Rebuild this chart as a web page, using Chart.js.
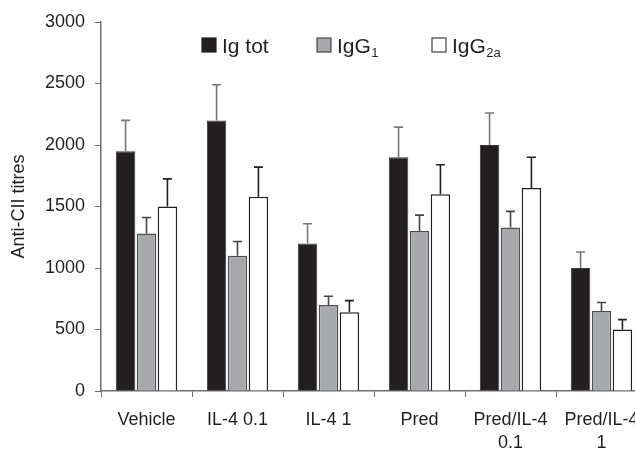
<!DOCTYPE html>
<html lang="en">
<head>
  <meta charset="UTF-8">
  <title>Anti-CII titres</title>
  <script src="https://cdn.jsdelivr.net/npm/chart.js"></script>
  <style>
    html, body {
      margin: 0;
      padding: 0;
      background: #ffffff;
      overflow: hidden;
    }
    .chart-container {
      width: 660px;  /* wider than the window: last group is cut off like the original */
      height: 449px;
    }
  </style>
</head>
<body>
  <div class="chart-container">
    <canvas id="barChart"></canvas>
  </div>
  <script>
    // Groups on the x axis
    const groups = [
      'Vehicle',
      'IL-4 0.1',
      'IL-4 1',
      'Pred',
      ['Pred/IL-4', '0.1'],
      ['Pred/IL-4', '1']
    ];

    // Mean titres
    const igTot = [1950, 2200, 1200, 1900, 2000, 1000];
    const igG1  = [1280, 1100, 700, 1300, 1330, 650];
    const igG2a = [1500, 1580, 640, 1600, 1650, 500];

    // Upper error (SEM)
    const igTotErr = [250, 290, 160, 245, 260, 130];
    const igG1Err  = [130, 115, 70, 130, 130, 70];
    const igG2aErr = [225, 240, 95, 240, 250, 80];

    const yTicks = [0, 500, 1000, 1500, 2000, 2500, 3000];

    const textColor = '#231f20';
    const axisColor = '#6d6e71';

    // error bars drawn on top of each bar (upper only, with cap)
    const errorBars = {
      id: 'errorBars',
      afterDatasetsDraw(chart) {
        const ctx = chart.ctx;
        const yScale = chart.scales.y;
        chart.data.datasets.forEach((ds, i) => {
          const meta = chart.getDatasetMeta(i);
          ctx.save();
          ctx.strokeStyle = ds.errColor;
          ctx.lineWidth = 1.6;
          meta.data.forEach((bar, j) => {
            const top = yScale.getPixelForValue(ds.data[j] + ds.errors[j]);
            ctx.beginPath();
            ctx.moveTo(bar.x, bar.y);
            ctx.lineTo(bar.x, top);
            ctx.moveTo(bar.x - 4.5, top);
            ctx.lineTo(bar.x + 4.5, top);
            ctx.stroke();
          });
          ctx.restore();
        });
      }
    };

    // legend with subscripts, drawn by hand
    const subLegend = {
      id: 'subLegend',
      afterDraw(chart) {
        const ctx = chart.ctx;
        const items = [
          { x: 202, main: 'Ig tot', sub: '' },
          { x: 317, main: 'IgG', sub: '1' },
          { x: 432, main: 'IgG', sub: '2a' }
        ];
        ctx.save();
        items.forEach((it, i) => {
          const ds = chart.data.datasets[i];
          ctx.fillStyle = ds.backgroundColor;
          ctx.fillRect(it.x, 38, 14, 14);
          ctx.strokeStyle = i === 0 ? '#231f20' : '#444';
          ctx.lineWidth = 1.2;
          ctx.strokeRect(it.x, 38, 14, 14);
          ctx.fillStyle = textColor;
          ctx.textBaseline = 'alphabetic';
          ctx.textAlign = 'left';
          ctx.font = '21px "Liberation Sans", Arial, sans-serif';
          ctx.fillText(it.main, it.x + 20, 53);
          if (it.sub) {
            const w = ctx.measureText(it.main).width;
            ctx.font = '13px "Liberation Sans", Arial, sans-serif';
            ctx.fillText(it.sub, it.x + 20 + w + 0.5, 57);
          }
        });
        ctx.restore();
      }
    };

    const config = {
      type: 'bar',
      data: {
        labels: groups,
        datasets: [
          {
            label: 'Ig tot',
            data: igTot,
            errors: igTotErr,
            errColor: '#777777',
            backgroundColor: '#231f20',
            borderColor: '#3a3738',
            borderWidth: 1
          },
          {
            label: 'IgG1',
            data: igG1,
            errors: igG1Err,
            errColor: '#444444',
            backgroundColor: '#a7a9ac',
            borderColor: '#4d4d4f',
            borderWidth: 1.5
          },
          {
            label: 'IgG2a',
            data: igG2a,
            errors: igG2aErr,
            errColor: '#231f20',
            backgroundColor: '#ffffff',
            borderColor: '#231f20',
            borderWidth: 1.5
          }
        ]
      },
      options: {
        responsive: true,
        maintainAspectRatio: false,
        animation: false,
        devicePixelRatio: 1,
        layout: {
          padding: { top: 22, right: 13, left: 0, bottom: 0 }
        },
        datasets: {
          bar: {
            categoryPercentage: 0.69,
            barPercentage: 0.93
          }
        },
        plugins: {
          legend: { display: false },
          tooltip: { enabled: false }
        },
        scales: {
          x: {
            afterFit: s => { s.height = 58; },
            grid: {
              offset: true,
              drawOnChartArea: false,
              drawTicks: true,
              tickLength: 6,
              color: axisColor
            },
            border: { display: true, color: axisColor, width: 1.5 },
            ticks: {
              color: textColor,
              padding: 12,
              maxRotation: 0,
              autoSkip: false,
              font: { family: '"Liberation Sans", Arial, sans-serif', size: 18, lineHeight: 1.25 }
            }
          },
          y: {
            min: 0,
            max: 3000,
            afterFit: s => { s.width = 101; },
            afterBuildTicks: s => { s.ticks = yTicks.map(v => ({ value: v })); },
            grid: {
              drawOnChartArea: false,
              drawTicks: true,
              tickLength: 6,
              color: axisColor
            },
            border: { display: true, color: axisColor, width: 1.5 },
            ticks: {
              color: textColor,
              padding: 10,
              callback: v => String(v),
              font: { family: '"Liberation Sans", Arial, sans-serif', size: 18 }
            },
            title: {
              display: true,
              text: 'Anti-CII titres',
              color: textColor,
              padding: { top: 8, bottom: 0 },
              font: { family: '"Liberation Sans", Arial, sans-serif', size: 18 }
            }
          }
        }
      },
      plugins: [errorBars, subLegend]
    };

    new Chart(document.getElementById('barChart'), config);
  </script>
</body>
</html>
